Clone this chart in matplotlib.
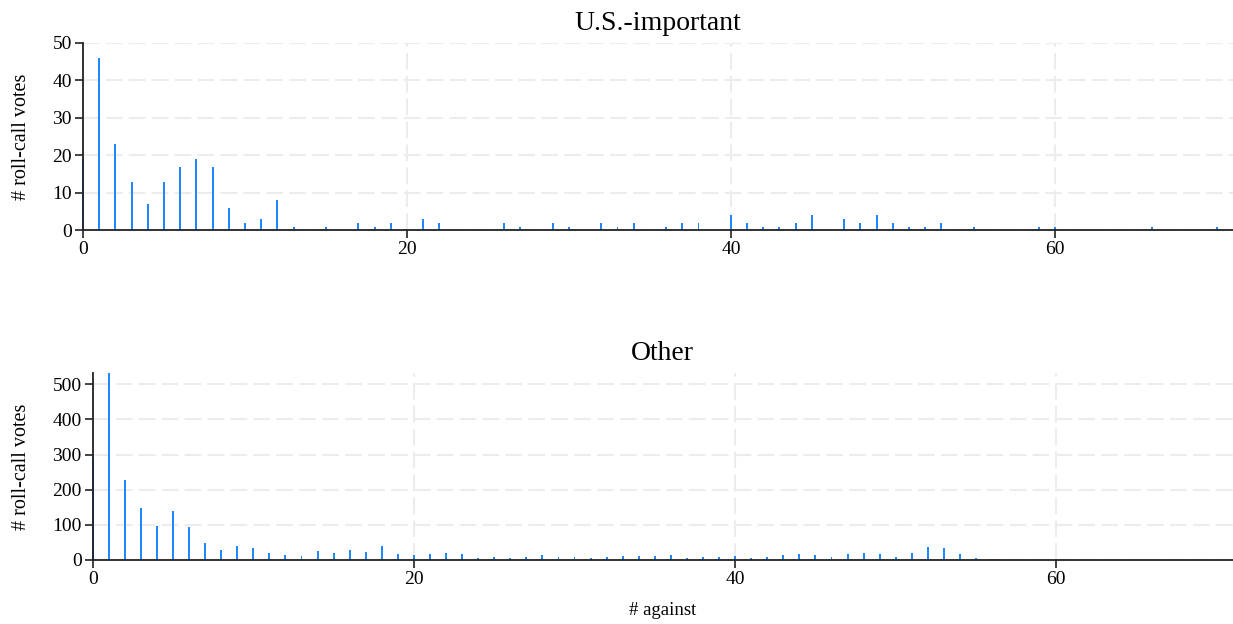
import matplotlib.pyplot as plt
import numpy as np

plt.rcParams['font.family'] = ['Liberation Serif', 'DejaVu Serif']

# number of "against" votes -> count of roll-call votes
us_against = [0, 1, 2, 3, 4, 5, 6, 7, 8, 9, 10, 11, 12, 13, 15, 17, 18, 19, 21, 22,
              26, 27, 29, 30, 32, 33, 34, 36, 37, 38, 40, 41, 42, 43, 44, 45, 47, 48,
              49, 50, 51, 52, 53, 55, 59, 60, 66, 70]
us_votes = [19, 46, 23, 13, 7, 13, 17, 19, 17, 6, 2, 3, 8, 1, 1, 2, 1, 2, 3, 2,
            2, 1, 2, 1, 2, 1, 2, 1, 2, 2, 4, 2, 1, 1, 2, 4, 3, 2,
            4, 2, 1, 1, 2, 1, 1, 1, 1, 1]

other_against = list(range(0, 59))
other_votes = [292, 533, 229, 149, 96, 139, 93, 48, 28, 40, 34, 20, 14, 11, 25, 19,
               29, 23, 39, 16, 14, 17, 20, 17, 6, 9, 6, 8, 13, 8, 9, 5, 9, 11, 12, 11,
               14, 5, 8, 8, 12, 6, 8, 13, 16, 13, 8, 18, 20, 17, 8, 20, 37, 34, 17, 5,
               2, 1, 1]

panels = [
    ("U.S.-important", us_against, us_votes, [0, 10, 20, 30, 40, 50], 50,
     [0.0673, 0.6309, 0.9327, 0.3007], -0.045),
    ("Other", other_against, other_votes, [0, 100, 200, 300, 400, 500], max(other_votes),
     [0.0752, 0.1026, 0.9248, 0.3001], -0.054),
]

fig = plt.figure(figsize=(12.33, 6.24), dpi=100)

for title, xs, ys, yticks, ytop, rect, label_x in panels:
    ax = fig.add_axes(rect)
    ax.bar(xs, ys, width=0.12, color='#1e88ff', zorder=2, clip_on=False)
    ax.set_xlim(0, 71)
    ax.set_ylim(0, ytop)
    ax.set_xticks([0, 20, 40, 60])
    ax.set_yticks(yticks)
    ax.grid(True, color='#ececec', linewidth=1.5, linestyle=(0, (8, 3)), zorder=0)
    for side in ['top', 'right']:
        ax.spines[side].set_visible(False)
    for side in ['left', 'bottom']:
        ax.spines[side].set_color('#222222')
        ax.spines[side].set_linewidth(1.3)
        ax.spines[side].set_zorder(3)
    ax.tick_params(axis='both', length=6, width=1.2, color='#222222', labelsize=14, pad=2)
    ax.set_title(title, fontsize=20, pad=9)
    ax.set_ylabel("# roll-call votes", fontsize=14.5)
    ax.yaxis.set_label_coords(label_x, 0.5)

ax.set_xlabel("# against", fontsize=13.5, labelpad=10)

fig.savefig("out.png", dpi=100)
